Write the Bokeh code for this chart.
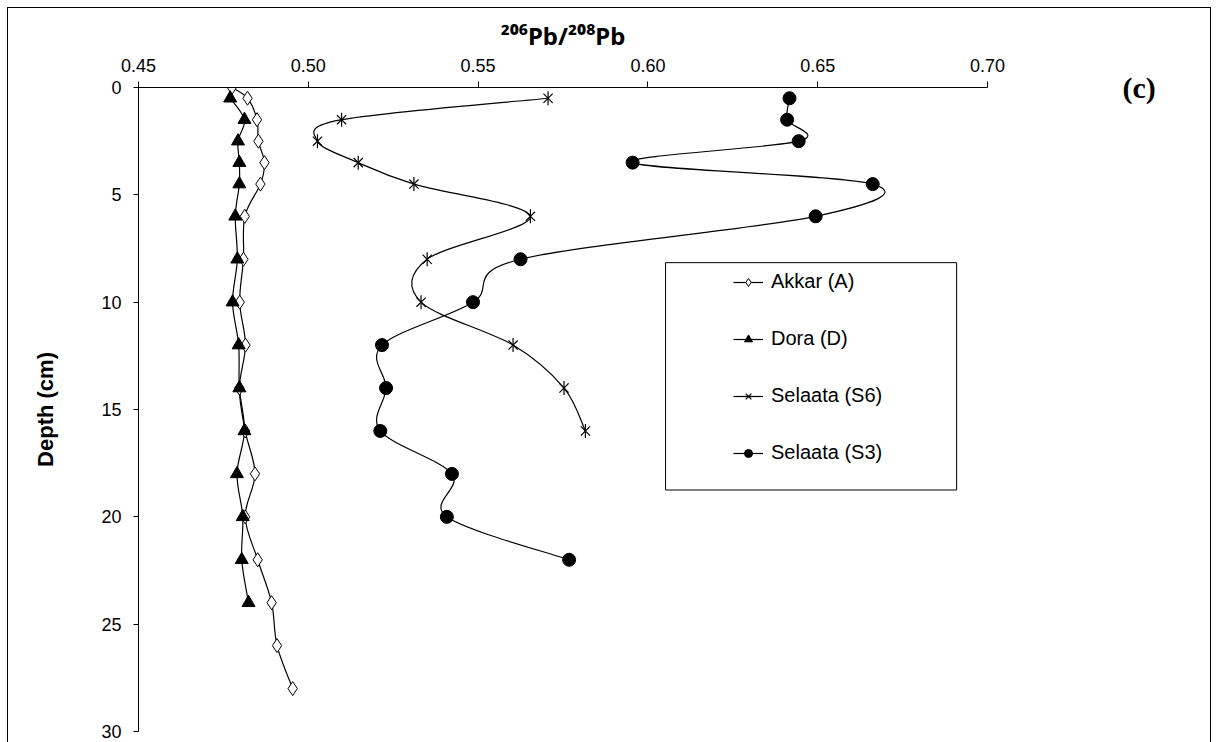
import math
from bokeh.plotting import figure
from bokeh.models import (Range1d, FixedTicker, NumeralTickFormatter, Legend, LinearAxis,
                          LegendItem, BoxAnnotation, ColumnDataSource)
from bokeh.embed import file_html
from bokeh.resources import INLINE

# ---------------- data ----------------
akkar_depth = [0, 0.5, 1.5, 2.5, 3.5, 4.5, 6, 8, 10, 12, 14, 16, 18, 20, 22, 24, 26, 28]
akkar_ratio = [0.4775, 0.4821, 0.4849, 0.4853, 0.4871, 0.4859, 0.4813, 0.4809, 0.4798,
               0.4815, 0.4797, 0.4814, 0.4843, 0.4814, 0.4851, 0.4892, 0.4908, 0.4954]

dora_depth = [0.5, 1.5, 2.5, 3.5, 4.5, 6, 8, 10, 12, 14, 16, 18, 20, 22, 24]
dora_ratio = [0.4770, 0.4812, 0.4793, 0.4797, 0.4797, 0.4785, 0.4791, 0.4777, 0.4795,
              0.4797, 0.4812, 0.4790, 0.4807, 0.4804, 0.4824]

s6_depth = [0.5, 1.5, 2.5, 3.5, 4.5, 6, 8, 10, 12, 14, 16]
s6_ratio = [0.5706, 0.5098, 0.5027, 0.5147, 0.5311, 0.5654, 0.5350, 0.5332, 0.5603,
            0.5753, 0.5816]

s3_depth = [0.5, 1.5, 2.5, 3.5, 4.5, 6, 8, 10, 12, 14, 16, 18, 20, 22]
s3_ratio = [0.6417, 0.6410, 0.6444, 0.5955, 0.6662, 0.6494, 0.5625, 0.5485, 0.5217,
            0.5229, 0.5212, 0.5423, 0.5408, 0.5768]

series_names = ["Akkar (A)", "Dora (D)", "Selaata (S6)", "Selaata (S3)"]
x_ticks = [0.45, 0.50, 0.55, 0.60, 0.65, 0.70]
y_ticks = [0, 5, 10, 15, 20, 25, 30]
x_title = "\u00b2\u2070\u2076Pb/\u00b2\u2070\u2078Pb"
y_title = "Depth (cm)"
panel_tag = "(c)"

FONT = "Liberation Sans"


def smooth_source(xs, ys):
    """Excel-like smoothed line: Catmull-Rom segments as cubic Beziers."""
    n = len(xs)
    d = dict(x0=[], y0=[], x1=[], y1=[], cx0=[], cy0=[], cx1=[], cy1=[])
    for i in range(n - 1):
        pm = (xs[max(i - 1, 0)], ys[max(i - 1, 0)])
        p0 = (xs[i], ys[i])
        p1 = (xs[i + 1], ys[i + 1])
        p2 = (xs[min(i + 2, n - 1)], ys[min(i + 2, n - 1)])
        d["x0"].append(p0[0]); d["y0"].append(p0[1])
        d["x1"].append(p1[0]); d["y1"].append(p1[1])
        d["cx0"].append(p0[0] + (p1[0] - pm[0]) / 6.0)
        d["cy0"].append(p0[1] + (p1[1] - pm[1]) / 6.0)
        d["cx1"].append(p1[0] - (p2[0] - p0[0]) / 6.0)
        d["cy1"].append(p1[1] - (p2[1] - p0[1]) / 6.0)
    return ColumnDataSource(d)


p = figure(width=1204, height=737, output_backend="svg", toolbar_location=None,
           x_range=Range1d(0.45, 0.70), y_range=Range1d(30, 0),
           x_axis_location="above", min_border_left=130, min_border_right=225,
           min_border_top=79, min_border_bottom=14,
           styles={"border": "1px solid black"})
p.margin = (7, 0, 0, 7)
p.outline_line_color = None
p.grid.visible = False
p.background_fill_color = "white"
p.border_fill_color = "white"

for ax in (p.xaxis[0], p.yaxis[0]):
    ax.axis_line_color = "black"
    ax.axis_line_width = 1
    ax.major_tick_line_color = "black"
    ax.major_tick_in = 0
    ax.minor_tick_line_color = None
    ax.major_label_text_font = FONT
    ax.major_label_text_font_size = "18px"
    ax.major_label_text_color = "black"
    ax.axis_label_text_font = FONT
    ax.axis_label_text_font_style = "bold"
    ax.axis_label_text_color = "black"

p.xaxis[0].ticker = FixedTicker(ticks=x_ticks)
p.xaxis[0].formatter = NumeralTickFormatter(format="0.00")
p.xaxis[0].major_tick_out = 6
p.xaxis[0].major_label_standoff = 10
p.xaxis[0].axis_label = x_title
p.xaxis[0].axis_label_text_font = "Noto Sans"
p.xaxis[0].axis_label_text_font_size = "24px"
p.xaxis[0].axis_label_standoff = 4

p.yaxis[0].ticker = FixedTicker(ticks=y_ticks)
p.yaxis[0].major_tick_out = 5
p.yaxis[0].major_label_standoff = 12
p.yaxis[0].axis_label = y_title
p.yaxis[0].axis_label_text_font_size = "22px"
p.yaxis[0].axis_label_standoff = 40

# panel tag "(c)" as the single label of a bare axis on the right side
p.extra_y_ranges = {"tag": Range1d(0, 1)}
tag_axis = LinearAxis(y_range_name="tag", ticker=FixedTicker(ticks=[1]),
                      major_label_overrides={1: panel_tag})
tag_axis.axis_line_color = None
tag_axis.major_tick_line_color = None
tag_axis.minor_tick_line_color = None
tag_axis.major_tick_in = 0
tag_axis.major_tick_out = 0
tag_axis.major_label_standoff = 135
tag_axis.major_label_text_font = "Liberation Serif"
tag_axis.major_label_text_font_size = "30px"
tag_axis.major_label_text_font_style = "bold"
tag_axis.major_label_text_color = "black"
p.add_layout(tag_axis, "right")

# ---------------- series ----------------
lw = 1.2
r_a_line = p.bezier("x0", "y0", "x1", "y1", "cx0", "cy0", "cx1", "cy1",
                    source=smooth_source(akkar_ratio, akkar_depth), line_color="black", line_width=lw)
r_d_line = p.bezier("x0", "y0", "x1", "y1", "cx0", "cy0", "cx1", "cy1",
                    source=smooth_source(dora_ratio, dora_depth), line_color="black", line_width=lw)
r_s6_line = p.bezier("x0", "y0", "x1", "y1", "cx0", "cy0", "cx1", "cy1",
                     source=smooth_source(s6_ratio, s6_depth), line_color="black", line_width=lw)
r_s3_line = p.bezier("x0", "y0", "x1", "y1", "cx0", "cy0", "cx1", "cy1",
                     source=smooth_source(s3_ratio, s3_depth), line_color="black", line_width=lw)

r_a = p.scatter(akkar_ratio, akkar_depth, marker="diamond", size=14,
                fill_color="white", line_color="black", line_width=1)
r_d = p.scatter(dora_ratio, dora_depth, marker="triangle", size=13,
                fill_color="black", line_color="black")
r_s6x = p.scatter(s6_ratio, s6_depth, marker="x", size=13, line_color="black", line_width=1.2)
r_s6v = p.scatter(s6_ratio, s6_depth, marker="dash", angle=math.pi / 2, size=14,
                  line_color="black", line_width=1.2)
r_s3 = p.scatter(s3_ratio, s3_depth, marker="circle", size=13,
                 fill_color="black", line_color="black")

legend = Legend(items=[
    LegendItem(label=series_names[0], renderers=[r_a_line, r_a]),
    LegendItem(label=series_names[1], renderers=[r_d_line, r_d]),
    LegendItem(label=series_names[2], renderers=[r_s6_line, r_s6x, r_s6v]),
    LegendItem(label=series_names[3], renderers=[r_s3_line, r_s3]),
], location=(595, 267), orientation="vertical")
legend.padding = 0
legend.margin = 0
legend.border_line_color = None
legend.background_fill_alpha = 0
legend.glyph_width = 30
legend.glyph_height = 20
legend.label_height = 20
legend.spacing = 34
legend.label_standoff = 8
legend.label_text_font = FONT
legend.label_text_font_size = "20px"
legend.label_text_color = "black"
legend.label_text_baseline = "middle"
p.add_layout(legend, "center")

p.add_layout(BoxAnnotation(left=0.6052, right=0.6909, top=8.16, bottom=18.75,
                           fill_alpha=0, line_color="black", line_alpha=1, line_width=1))

open("out.html", "w").write(file_html(p, INLINE))
